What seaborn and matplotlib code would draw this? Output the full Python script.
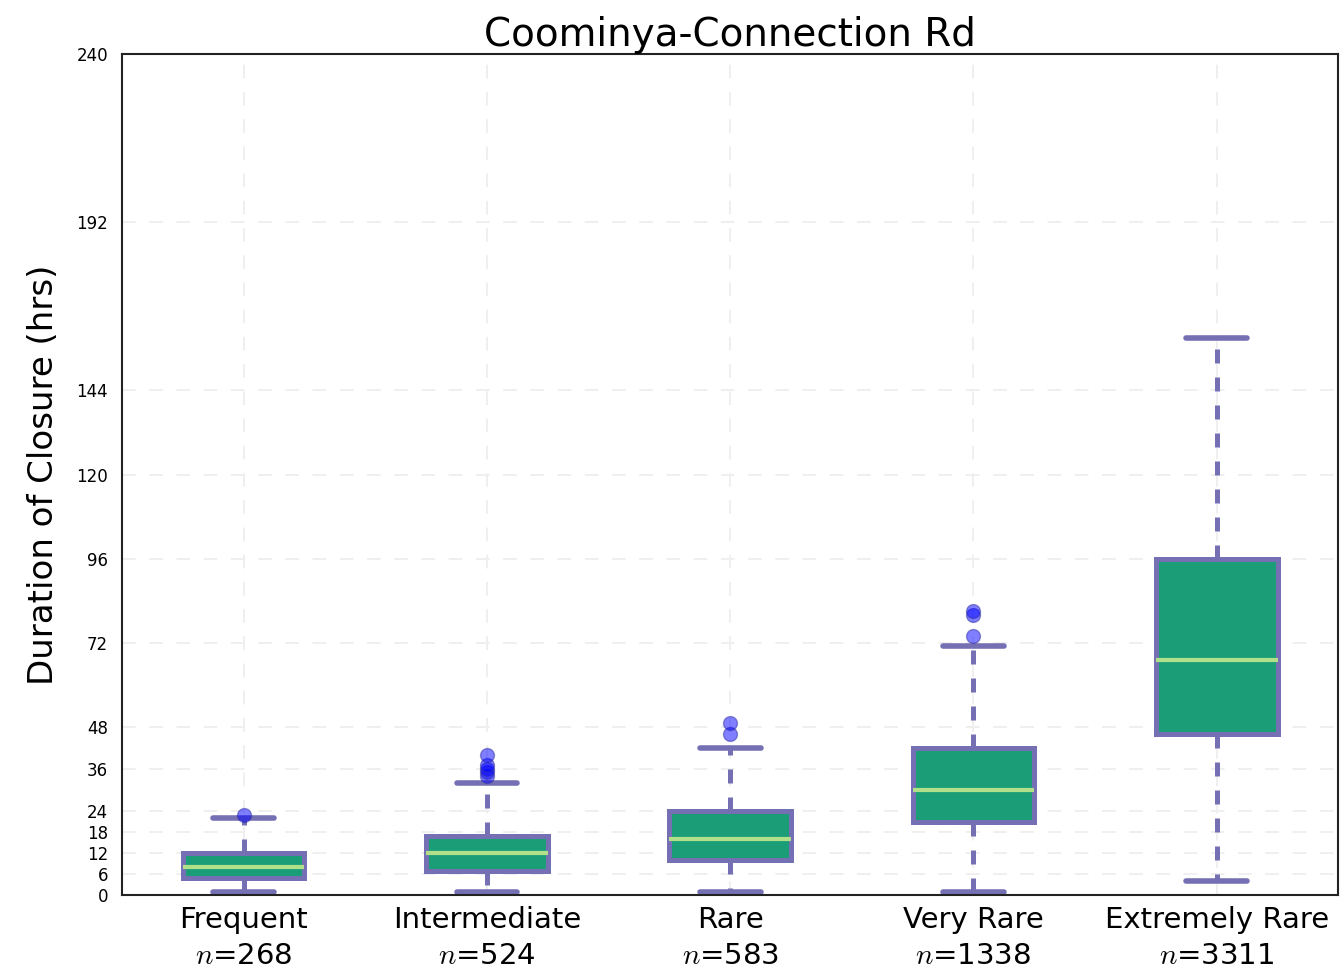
import pandas as pd
import matplotlib.pyplot as plt
import seaborn as sns

# Summary values (hrs): lower whisker, Q1, median, Q3, upper whisker
categories = ["Frequent", "Intermediate", "Rare", "Very Rare", "Extremely Rare"]
counts = [268, 524, 583, 1338, 3311]
box_frequent = [1, 5, 8, 12, 22]
box_intermediate = [1, 7, 12, 17, 32]
box_rare = [1, 10, 16, 24, 42]
box_very_rare = [1, 21, 30, 42, 71]
box_extremely_rare = [4, 46, 67, 96, 159]

# outliers above the upper whisker
fliers_frequent = [23]
fliers_intermediate = [34, 35, 36, 37, 40]
fliers_rare = [46, 49]
fliers_very_rare = [74, 80, 81]
fliers_extremely_rare = []

yticks = [0, 6, 12, 18, 24, 36, 48, 72, 96, 120, 144, 192, 240]

box_lists = [box_frequent, box_intermediate, box_rare, box_very_rare, box_extremely_rare]
flier_lists = [fliers_frequent, fliers_intermediate, fliers_rare, fliers_very_rare,
               fliers_extremely_rare]

box_df = pd.DataFrame(
    [(c, v) for c, vals in zip(categories, box_lists) for v in vals],
    columns=["category", "hours"])
flier_df = pd.DataFrame(
    [(c, v) for c, vals in zip(categories, flier_lists) for v in vals],
    columns=["category", "hours"])

sns.set_style("white")
plt.rcParams["mathtext.fontset"] = "cm"
plt.rcParams["text.color"] = "black"
plt.rcParams["axes.labelcolor"] = "black"
plt.rcParams["xtick.color"] = "black"
plt.rcParams["ytick.color"] = "black"

fig = plt.figure(figsize=(13.41, 9.73), dpi=100)
ax = fig.add_axes([0.091, 0.080, 0.907, 0.8645])

purple = "#7570b3"
sns.boxplot(data=box_df, x="category", y="hours", order=categories, ax=ax,
            whis=(0, 100), width=0.5, color="#1b9e77", saturation=1,
            linecolor=purple, linewidth=3.6, showfliers=False,
            medianprops=dict(color="#b2df8a", linewidth=3),
            whiskerprops=dict(linestyle=(0, (2.8, 2.8))),
            capprops=dict(linewidth=4))

sns.stripplot(data=flier_df, x="category", y="hours", order=categories, ax=ax,
              jitter=False, color="blue", alpha=0.5, size=10,
              linewidth=1, edgecolor="#3030a0", zorder=5)

ax.set_ylim(0, 240)
ax.set_xlim(-0.5, 4.5)
ax.set_yticks(yticks)
ax.set_yticklabels([str(t) for t in yticks], fontsize=12)
ax.set_xticks(range(len(categories)))
ax.set_xticklabels([f"{c}\n$n$={n}" for c, n in zip(categories, counts)],
                   fontsize=21, linespacing=1.35)
ax.tick_params(direction="in", length=7, width=1)
ax.tick_params(axis="y", pad=10)
ax.tick_params(axis="x", pad=8)

ax.grid(True, linestyle=(0, (7, 7)), color="#efefef", linewidth=1.4)
ax.set_axisbelow(True)
for sp in ax.spines.values():
    sp.set_color("#222222")
    sp.set_linewidth(1.5)

ax.set_xlabel("")
ax.set_ylabel("Duration of Closure (hrs)", fontsize=24.5, labelpad=12)
ax.set_title("Coominya-Connection Rd", fontsize=28, pad=6)

plt.savefig("out.png", dpi=100)
plt.close()
